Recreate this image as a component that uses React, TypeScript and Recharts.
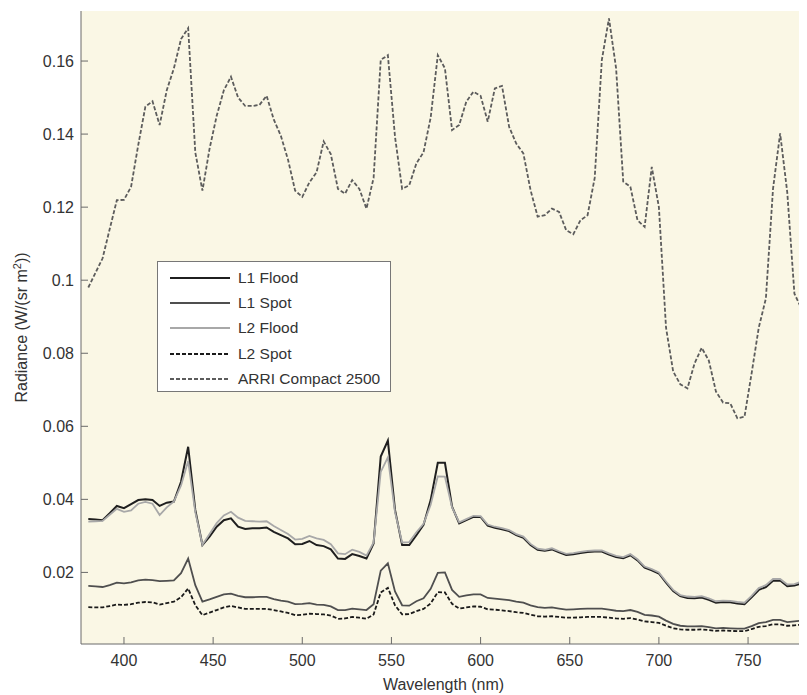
import React from 'react';
import { CartesianGrid, Legend, Line, LineChart, XAxis, YAxis } from 'recharts';

// wavelength samples (nm), every 4 nm
const WAVELENGTHS = [
  380, 384, 388, 392, 396, 400, 404, 408, 412, 416,
  420, 424, 428, 432, 436, 440, 444, 448, 452, 456,
  460, 464, 468, 472, 476, 480, 484, 488, 492, 496,
  500, 504, 508, 512, 516, 520, 524, 528, 532, 536,
  540, 544, 548, 552, 556, 560, 564, 568, 572, 576,
  580, 584, 588, 592, 596, 600, 604, 608, 612, 616,
  620, 624, 628, 632, 636, 640, 644, 648, 652, 656,
  660, 664, 668, 672, 676, 680, 684, 688, 692, 696,
  700, 704, 708, 712, 716, 720, 724, 728, 732, 736,
  740, 744, 748, 752, 756, 760, 764, 768, 772, 776,
  780,
];

const L1_FLOOD = [
  0.0346, 0.0345, 0.0343, 0.0362, 0.0382, 0.0376, 0.0387, 0.0398, 0.04, 0.0398,
  0.0382, 0.0391, 0.0394, 0.0448, 0.0544, 0.0371, 0.0275, 0.0298, 0.0325, 0.0343,
  0.0348, 0.0325, 0.0319, 0.0321, 0.0321, 0.0323, 0.0311, 0.0302, 0.0293, 0.0277,
  0.0278, 0.0286, 0.0275, 0.0272, 0.0263, 0.0238, 0.0237, 0.025, 0.0245, 0.0238,
  0.0279, 0.0517, 0.0561, 0.0371, 0.0275, 0.0275, 0.0302, 0.033, 0.0398, 0.05,
  0.05, 0.038, 0.0334, 0.0343, 0.0352, 0.0352, 0.0328, 0.0322, 0.0318, 0.0313,
  0.0302, 0.0295, 0.0275, 0.0262, 0.0259, 0.0263, 0.0255, 0.0248, 0.025, 0.0253,
  0.0256, 0.0257, 0.0257, 0.0249, 0.0242, 0.0239, 0.0247, 0.0233, 0.0213, 0.0206,
  0.0197, 0.0172, 0.0149, 0.0135, 0.013, 0.0129, 0.0131, 0.0125, 0.0117, 0.0119,
  0.0118, 0.0115, 0.0113, 0.0132, 0.0152, 0.016, 0.0177, 0.0178, 0.0162, 0.0164,
  0.017,
];

const L1_SPOT = [
  0.0163, 0.0162, 0.016, 0.0165, 0.0172, 0.017, 0.0173, 0.0178, 0.018, 0.0179,
  0.0176, 0.0177, 0.0178, 0.0198, 0.0238, 0.0165, 0.012, 0.0126, 0.0133, 0.014,
  0.0142, 0.0136, 0.0132, 0.0132, 0.0133, 0.0133, 0.0127, 0.0123, 0.012, 0.0113,
  0.0114, 0.0116, 0.0112, 0.0111, 0.0107, 0.0097, 0.0097, 0.0101, 0.0099, 0.0097,
  0.0113, 0.0205, 0.0225, 0.0148, 0.011, 0.0109, 0.0121, 0.0129, 0.0155, 0.0199,
  0.02, 0.0152, 0.0133, 0.0137, 0.014, 0.014, 0.013, 0.0128, 0.0126, 0.0124,
  0.012, 0.0117, 0.011, 0.0105, 0.0103, 0.0104, 0.0101, 0.0098, 0.0099, 0.01,
  0.0101, 0.0101, 0.0101, 0.0098, 0.0095, 0.0094, 0.0097, 0.0092, 0.0084, 0.0082,
  0.0079, 0.0068, 0.0059, 0.0054, 0.0052, 0.0052, 0.0053, 0.005, 0.0047, 0.0048,
  0.0047, 0.0046, 0.0046, 0.0053, 0.0061, 0.0064, 0.007, 0.007, 0.0064, 0.0066,
  0.0068,
];

const L2_FLOOD = [
  0.0339, 0.034, 0.0341, 0.0358, 0.0374, 0.0366, 0.037, 0.0388, 0.0393, 0.0388,
  0.0357, 0.0378, 0.0394, 0.0438, 0.0505, 0.0365, 0.0276, 0.0305, 0.0335, 0.0356,
  0.0366, 0.035, 0.0341, 0.034, 0.0339, 0.034, 0.0327, 0.0316, 0.0305, 0.029,
  0.0292, 0.03, 0.0293, 0.0289, 0.0277, 0.0252, 0.025, 0.0262, 0.0256, 0.0246,
  0.0282, 0.0475, 0.0515, 0.0365, 0.0282, 0.0283, 0.031, 0.0333, 0.0385, 0.0463,
  0.0462, 0.0378, 0.0337, 0.0346, 0.0355, 0.0354, 0.0331, 0.0325, 0.0321, 0.0316,
  0.0305, 0.0298, 0.0278, 0.0265, 0.0262, 0.0266, 0.0258, 0.0251, 0.0253, 0.0256,
  0.0259, 0.026, 0.026, 0.0252, 0.0245, 0.0242, 0.025, 0.0236, 0.0216, 0.0209,
  0.02, 0.0175, 0.0152, 0.0138, 0.0134, 0.0133, 0.0135, 0.0129, 0.0121, 0.0123,
  0.0122, 0.0119, 0.0117, 0.0136, 0.0157, 0.0165, 0.0182, 0.0182, 0.0167, 0.0168,
  0.0175,
];

const L2_SPOT = [
  0.0105, 0.0104, 0.0104, 0.0108, 0.0112, 0.0111, 0.0113, 0.0117, 0.0119, 0.0118,
  0.0112, 0.0116, 0.012, 0.0132, 0.0156, 0.011, 0.0083, 0.009, 0.0097, 0.0104,
  0.0108, 0.0104, 0.01, 0.01, 0.01, 0.01, 0.0097, 0.0093, 0.0089, 0.0083,
  0.0084, 0.0087, 0.0086, 0.0085, 0.0082, 0.0073, 0.0074, 0.0078, 0.0076, 0.0073,
  0.0085, 0.0145, 0.0158, 0.011, 0.0085, 0.0086, 0.0094, 0.01, 0.0115, 0.0146,
  0.0145, 0.0114, 0.0101, 0.0104, 0.0107, 0.0106, 0.0099, 0.0098, 0.0096, 0.0094,
  0.0091, 0.0089, 0.0084, 0.008, 0.0079, 0.008, 0.0078, 0.0076, 0.0076, 0.0077,
  0.0078, 0.0078, 0.0078, 0.0076, 0.0074, 0.0073, 0.0075, 0.0071, 0.0066, 0.0064,
  0.0062, 0.0054, 0.0047, 0.0044, 0.0043, 0.0043, 0.0044, 0.0042, 0.004, 0.0041,
  0.004, 0.0039, 0.0039, 0.0045, 0.0051, 0.0053, 0.0058, 0.0058, 0.0054, 0.0055,
  0.0057,
];

const ARRI = [
  0.098, 0.102, 0.106, 0.114, 0.1219, 0.122, 0.1256, 0.137, 0.1475, 0.149,
  0.1425, 0.152, 0.158, 0.166, 0.169, 0.135, 0.1245, 0.136, 0.145, 0.152,
  0.1557, 0.15, 0.1477, 0.1477, 0.148, 0.1505, 0.144, 0.1395, 0.133, 0.1245,
  0.1228, 0.1268, 0.1295, 0.138, 0.1345, 0.125, 0.1237, 0.1274, 0.125, 0.1196,
  0.128, 0.1603, 0.1616, 0.1393, 0.125, 0.126, 0.132, 0.135, 0.1445, 0.1616,
  0.158, 0.1411, 0.1425, 0.1489, 0.1516, 0.1505, 0.1434, 0.1525, 0.1532, 0.142,
  0.1374, 0.1347, 0.1247, 0.1174, 0.1178, 0.1196, 0.1187, 0.1137, 0.1126, 0.1164,
  0.1178, 0.128, 0.1603, 0.1717, 0.158, 0.127, 0.1256, 0.1164, 0.1146, 0.131,
  0.12, 0.087, 0.075, 0.0715, 0.0704, 0.0772, 0.0815, 0.078, 0.0695, 0.0665,
  0.0663, 0.0622, 0.0626, 0.0745, 0.087, 0.095, 0.125, 0.1402, 0.124, 0.0963,
  0.0922,
];

const X_TICKS = [400, 450, 500, 550, 600, 650, 700, 750];
const Y_TICKS = [0.02, 0.04, 0.06, 0.08, 0.1, 0.12, 0.14, 0.16];

const data = WAVELENGTHS.map((wl, i) => ({
  wl,
  l1Flood: L1_FLOOD[i],
  l1Spot: L1_SPOT[i],
  l2Flood: L2_FLOOD[i],
  l2Spot: L2_SPOT[i],
  arri: ARRI[i],
}));

const SERIES = [
  { key: 'l1Flood', name: 'L1 Flood', color: '#1f1f1f', width: 2, dash: undefined },
  { key: 'l1Spot', name: 'L1 Spot', color: '#4f4f4f', width: 1.8, dash: undefined },
  { key: 'l2Flood', name: 'L2 Flood', color: '#a8a8a8', width: 1.8, dash: undefined },
  { key: 'l2Spot', name: 'L2 Spot', color: '#1a1a1a', width: 1.8, dash: '4 2' },
  { key: 'arri', name: 'ARRI Compact 2500', color: '#5c5c5c', width: 1.8, dash: '4 2' },
];

const FONT = '"Liberation Sans", Arial, Helvetica, sans-serif';
const TEXT = '#333';
const AXIS = '#6a6a6a';
const TICK = 7;
const FS = 16;

const fmtY = (v: number) => String(Number(v.toFixed(2)));

function BottomTick({ x, y, payload }: any) {
  return (
    <g>
      <line x1={x} y1={y} x2={x} y2={y - TICK} stroke={AXIS} />
      <text x={x} y={y + 22} textAnchor="middle" fontSize={FS} fontFamily={FONT} fill={TEXT}>
        {payload.value}
      </text>
    </g>
  );
}

function LeftTick({ x, y, payload }: any) {
  return (
    <g>
      <line x1={x} y1={y} x2={x + TICK} y2={y} stroke={AXIS} />
      <text x={x - 7} y={y + 6} textAnchor="end" fontSize={FS} fontFamily={FONT} fill={TEXT}>
        {fmtY(payload.value)}
      </text>
    </g>
  );
}

const TopTick = ({ x, y }: any) => <line x1={x} y1={y} x2={x} y2={y + TICK} stroke={AXIS} />;
const RightTick = ({ x, y }: any) => <line x1={x} y1={y} x2={x - TICK} y2={y} stroke={AXIS} />;

function XLabel({ viewBox }: any) {
  const { x, y, width } = viewBox;
  return (
    <text x={x + width / 2} y={y + 46} textAnchor="middle" fontSize={FS} fontFamily={FONT} fill={TEXT}>
      Wavelength (nm)
    </text>
  );
}

function YLabel({ viewBox }: any) {
  const { x, y, height } = viewBox;
  const cx = x + 19;
  const cy = y + height / 2;
  return (
    <text
      x={cx}
      y={cy}
      transform={`rotate(-90 ${cx} ${cy})`}
      textAnchor="middle"
      fontSize={FS}
      fontFamily={FONT}
      fill={TEXT}
    >
      Radiance (W/(sr m<tspan dy={-6} fontSize={11}>2</tspan>
      <tspan dy={6}>))</tspan>
    </text>
  );
}

function LegendBox() {
  return (
    <div
      style={{
        width: 234,
        height: 131,
        boxSizing: 'border-box',
        background: '#fff',
        border: '1px solid #777',
        paddingTop: 3,
        fontFamily: FONT,
        fontSize: 15.5,
        color: TEXT,
      }}
    >
      {SERIES.map((s) => (
        <div key={s.key} style={{ display: 'flex', alignItems: 'center', height: 25.4 }}>
          <svg width={80} height={10} style={{ flex: 'none' }}>
            <line
              x1={12}
              y1={5}
              x2={72}
              y2={5}
              stroke={s.color}
              strokeWidth={s.width}
              strokeDasharray={s.dash}
            />
          </svg>
          <span>{s.name}</span>
        </div>
      ))}
    </div>
  );
}

export default function App() {
  return (
    <div style={{ width: 799, height: 687, background: '#fff' }}>
      <LineChart width={799} height={687} data={data} margin={{ top: 3, right: 1, bottom: 1, left: 0 }}>
        <CartesianGrid fill="#faf7e5" stroke="none" />
        <XAxis
          dataKey="wl"
          type="number"
          domain={[375.9, 782.5]}
          ticks={X_TICKS}
          allowDataOverflow
          height={50}
          tickSize={0}
          tickMargin={0}
          tickLine={false}
          axisLine={{ stroke: AXIS }}
          tick={<BottomTick />}
          label={<XLabel />}
        />
        <XAxis
          xAxisId="top"
          orientation="top"
          dataKey="wl"
          type="number"
          domain={[375.9, 782.5]}
          ticks={X_TICKS}
          allowDataOverflow
          height={0}
          tickSize={0}
          tickMargin={0}
          tickLine={false}
          axisLine={{ stroke: AXIS }}
          tick={<TopTick />}
        />
        <YAxis
          type="number"
          domain={[0.0004, 0.1737]}
          ticks={Y_TICKS}
          allowDataOverflow
          width={73}
          tickSize={0}
          tickMargin={0}
          tickLine={false}
          axisLine={{ stroke: AXIS }}
          tick={<LeftTick />}
          label={<YLabel />}
        />
        <YAxis
          yAxisId="right"
          orientation="right"
          type="number"
          domain={[0.0004, 0.1737]}
          ticks={Y_TICKS}
          allowDataOverflow
          width={0}
          tickSize={0}
          tickMargin={0}
          tickLine={false}
          axisLine={{ stroke: AXIS }}
          tick={<RightTick />}
        />
        <Legend
          layout="horizontal"
          verticalAlign="middle"
          align="center"
          content={<LegendBox />}
          wrapperStyle={{ position: 'absolute', left: 149, top: 253, width: 234, height: 131 }}
        />
        {SERIES.map((s) => (
          <Line
            key={s.key}
            dataKey={s.key}
            name={s.name}
            type="linear"
            stroke={s.color}
            strokeWidth={s.width}
            strokeDasharray={s.dash}
            dot={false}
            activeDot={false}
            isAnimationActive={false}
          />
        ))}
      </LineChart>
    </div>
  );
}
